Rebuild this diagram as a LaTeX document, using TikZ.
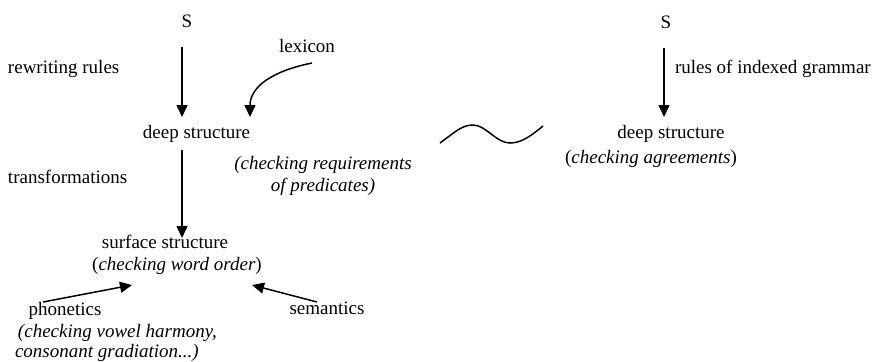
\documentclass[tikz,border=0pt]{standalone}
\usepackage{fontspec}
\setmainfont{Liberation Serif}
\newfontfamily\libserif{Liberation Serif}
\usetikzlibrary{arrows.meta}
\begin{document}
\begin{tikzpicture}[x=0.5pt,y=-0.5pt,
  txt/.style={inner sep=0pt,outer sep=0pt,font=\libserif\fontsize{9.5}{11}\selectfont,text height=0.7em,text depth=0.2em},
  itx/.style={inner sep=0pt,outer sep=0pt,font=\libserif\fontsize{9.5}{#1}\selectfont\itshape},
  arr/.style={line width=0.75pt,-{Triangle[width=5.5pt,length=6pt]}},
  wavy/.style={line width=0.75pt}]
\useasboundingbox (0,0) rectangle (872,361);
% left column
\node[txt] (S1) at (187,22) {S};
\node[txt,anchor=west] (rw) at (8,68) {rewriting rules};
\node[txt] (lex) at (307,47) {lexicon};
\node[txt] (deep1) at (196.5,133) {deep structure};
\node[itx=11,align=center] (req) at (323,176) {(checking requirements\\of predicates)};
\node[txt,anchor=west] (trans) at (8,178) {transformations};
\node[txt] (surf) at (165,243) {surface structure};
\node[txt] (wo) at (177,265) {(\textit{checking word order})};
\node[txt] (phon) at (65,310) {phonetics};
\node[itx=10,anchor=west,align=left] (vh) at (15,343) {\hspace*{1.5pt}(checking vowel harmony,\\consonant gradiation...)};
\node[txt] (sem) at (327,309) {semantics};
% right column
\node[txt] (S2) at (666,23) {S};
\node[txt,anchor=west] (rig) at (675,68) {rules of indexed grammar};
\node[txt] (deep2) at (671,133) {deep structure};
\node[txt] (agr) at (651,158) {(\textit{checking agreements})};
% arrows
\draw[arr] ([shift={(-5,25)}]S1.center) -- ([shift={(-14.5,-16)}]deep1.center);
\draw[arr] ([shift={(5,16)}]lex.center) .. controls +(-40,8) and +(0,-30) .. ([shift={(53.5,-16)}]deep1.center);
\draw[arr] ([shift={(-14.5,17)}]deep1.center) -- ([shift={(17,-5)}]surf.center);
\draw[arr] ([shift={(-22,-8)}]phon.center) -- ([shift={(-45,20)}]wo.center);
\draw[arr] ([shift={(-10,-7)}]sem.center) -- ([shift={(75,20)}]wo.center);
\draw[arr] ([shift={(-2,25)}]S2.center) -- ([shift={(-7,-16)}]deep2.center);
% wave
\draw[wavy] (440,143) .. controls (455,132) and (462,125) .. (473,125)
  .. controls (486,125) and (496,143) .. (510,143)
  .. controls (522,143) and (532,135) .. (543,126);
\end{tikzpicture}
\end{document}
